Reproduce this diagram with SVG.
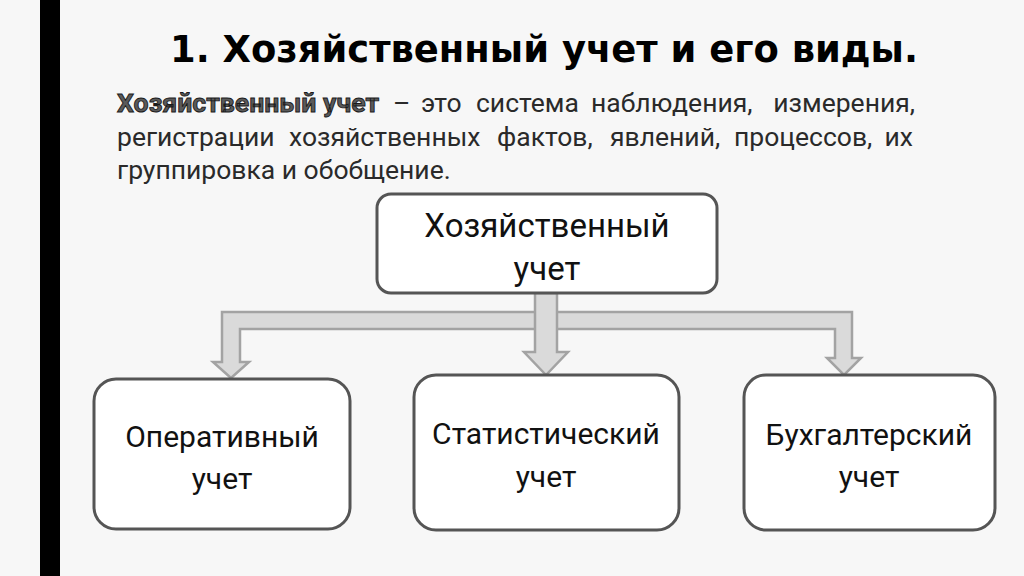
<svg xmlns="http://www.w3.org/2000/svg" width="1024" height="576" viewBox="0 0 1024 576">
<style>
.box{fill:#ffffff;stroke:#555555;stroke-width:3}
.arr{fill:#dadada;stroke:#a3a3a3;stroke-width:2.5;stroke-linejoin:miter}
.lbl{font-family:Roboto,"Liberation Sans",sans-serif;fill:#111111;text-anchor:middle}
.body{font-family:Roboto,"Liberation Sans",sans-serif;font-size:26.5px;fill:#2a2a2a}
</style>
<rect x="0" y="0" width="1024" height="576" fill="#f7f7f7"/>
<rect x="40" y="0" width="20" height="576" fill="#000000"/>
<text x="170" y="62" font-family="'DejaVu Sans',Verdana,sans-serif" font-weight="bold" font-size="37" fill="#000000" textLength="748" lengthAdjust="spacingAndGlyphs">1. Хозяйственный учет и его виды.</text>
<g id="definition">
<text class="body" y="112"><tspan x="117" font-weight="bold" fill="#5a5a5a" stroke="#1a1a1a" stroke-width="0.9" textLength="262" lengthAdjust="spacingAndGlyphs">Хозяйственный учет</tspan></text>
<text class="body" y="112"><tspan x="393">–</tspan><tspan x="421">это</tspan><tspan x="476">система</tspan><tspan x="591">наблюдения,</tspan></text>
<text class="body" y="112" x="915" text-anchor="end">измерения,</text>
<text class="body" y="146"><tspan x="117">регистрации</tspan><tspan x="289">хозяйственных</tspan><tspan x="497">фактов,</tspan><tspan x="610">явлений,</tspan><tspan x="734">процессов,</tspan></text>
<text class="body" y="146" x="913" text-anchor="end">их</text>
<text class="body" y="179" x="117">группировка и обобщение.</text>
</g>
<g id="connectors">
<polygon class="arr" points="222,312 852,312 852,358 861,358 844,375 827,358 835,358 835,329 240,329 240,362 249,362 231,378 213,362 222,362"/>
<polygon class="arr" points="535,293 557,293 557,352 568,352 546,375 524,352 535,352"/>
</g>
<g id="node-main">
<rect class="box" x="377" y="194" width="340" height="99" rx="14"/>
<text class="lbl" x="547" y="237" font-size="33">Хозяйственный</text>
<text class="lbl" x="547" y="280" font-size="33">учет</text>
</g>
<g id="node-operative">
<rect class="box" x="94" y="379" width="256" height="150" rx="22"/>
<text class="lbl" x="222" y="447" font-size="30">Оперативный</text>
<text class="lbl" x="222" y="489" font-size="30">учет</text>
</g>
<g id="node-statistical">
<rect class="box" x="414" y="375" width="265" height="155" rx="22"/>
<text class="lbl" x="546" y="444" font-size="30">Статистический</text>
<text class="lbl" x="546" y="487" font-size="30">учет</text>
</g>
<g id="node-accounting">
<rect class="box" x="744" y="375" width="251" height="155" rx="22"/>
<text class="lbl" x="869" y="445" font-size="30">Бухгалтерский</text>
<text class="lbl" x="869" y="487" font-size="30">учет</text>
</g>
</svg>
